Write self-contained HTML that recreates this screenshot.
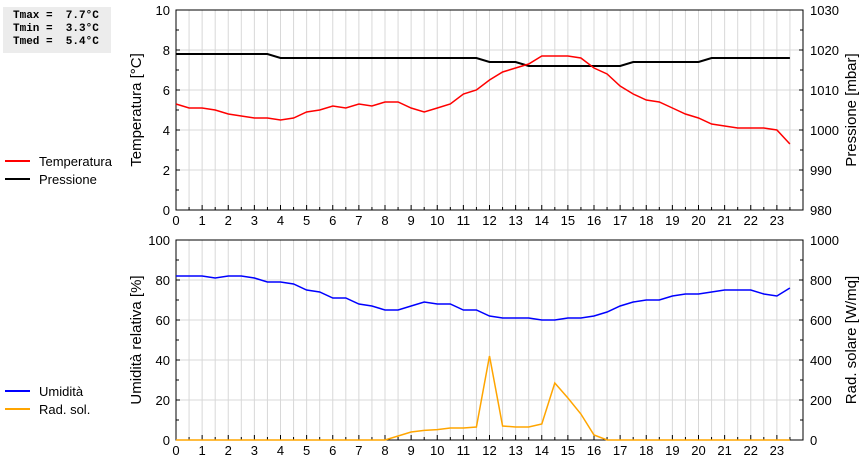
<!DOCTYPE html>
<html><head><meta charset="utf-8">
<style>
body{margin:0;background:#fff;width:860px;height:460px;overflow:hidden;font-family:"Liberation Sans",sans-serif;}
#stats{position:absolute;left:3px;top:7px;width:108px;height:46px;background:#ececec;font-family:"Liberation Mono",monospace;font-weight:bold;font-size:11px;line-height:13px;padding:3px 0 0 10px;box-sizing:border-box;white-space:pre;}
</style></head><body>
<div id="stats">Tmax =  7.7°C
Tmin =  3.3°C
Tmed =  5.4°C</div>
<svg id="c" width="860" height="460" style="position:absolute;left:0;top:0"></svg>
<script>
const hours=[0,0.5,1,1.5,2,2.5,3,3.5,4,4.5,5,5.5,6,6.5,7,7.5,8,8.5,9,9.5,10,10.5,11,11.5,12,12.5,13,13.5,14,14.5,15,15.5,16,16.5,17,17.5,18,18.5,19,19.5,20,20.5,21,21.5,22,22.5,23,23.5];
const temperature=[5.3,5.1,5.1,5.0,4.8,4.7,4.6,4.6,4.5,4.6,4.9,5.0,5.2,5.1,5.3,5.2,5.4,5.4,5.1,4.9,5.1,5.3,5.8,6.0,6.5,6.9,7.1,7.3,7.7,7.7,7.7,7.6,7.1,6.8,6.2,5.8,5.5,5.4,5.1,4.8,4.6,4.3,4.2,4.1,4.1,4.1,4.0,3.3];
const pressure=[1019,1019,1019,1019,1019,1019,1019,1019,1018,1018,1018,1018,1018,1018,1018,1018,1018,1018,1018,1018,1018,1018,1018,1018,1017,1017,1017,1016,1016,1016,1016,1016,1016,1016,1016,1017,1017,1017,1017,1017,1017,1018,1018,1018,1018,1018,1018,1018];
const humidity=[82,82,82,81,82,82,81,79,79,78,75,74,71,71,68,67,65,65,67,69,68,68,65,65,62,61,61,61,60,60,61,61,62,64,67,69,70,70,72,73,73,74,75,75,75,73,72,76];
const radiation=[0,0,0,0,0,0,0,0,0,0,0,0,0,0,0,0,0,20,40,48,52,60,60,65,420,70,65,65,80,285,210,130,25,0,0,0,0,0,0,0,0,0,0,0,0,0,0,0];
const tempTicks=[0,2,4,6,8,10], presTicks=[980,990,1000,1010,1020,1030];
const humTicks=[0,20,40,60,80,100], radTicks=[0,200,400,600,800,1000];
const xTicks=[0,1,2,3,4,5,6,7,8,9,10,11,12,13,14,15,16,17,18,19,20,21,22,23];

const svg=document.getElementById('c');const NS='http://www.w3.org/2000/svg';
const X0=176,X1=803;
const xs=h=>X0+(X1-X0)*h/24;
function el(t,a,p){const e=document.createElementNS(NS,t);for(const k in a)e.setAttribute(k,a[k]);(p||svg).appendChild(e);return e;}
function panel(name,top,bot,lMin,lMax,lTicks,rMin,rMax,rTicks,lTitle,rTitle){
  const g=el('g',{});
  
  
  for(let h=0.5;h<24;h+=0.5){el('line',{x1:xs(h),x2:xs(h),y1:top,y2:bot,stroke:'#d8d8d8','stroke-width':1},g);}
  const yl=v=>bot-(bot-top)*(v-lMin)/(lMax-lMin);
  const yr=v=>bot-(bot-top)*(v-rMin)/(rMax-rMin);
  for(let i=1;i<lTicks.length-1;i++){el('line',{x1:X0,x2:X1,y1:yl(lTicks[i]),y2:yl(lTicks[i]),stroke:'#d8d8d8'},g);}
  el('rect',{x:X0,y:top,width:X1-X0,height:bot-top,fill:'none',stroke:'#000'},g);
  for(let i=0;i<lTicks.length;i++){const y=yl(lTicks[i]);
    const t=el('text',{x:X0-6,y:y+5,'text-anchor':'end','font-size':13},g);t.textContent=lTicks[i];
    el('line',{x1:X0,x2:X0+4,y1:y,y2:y,stroke:'#000'},g);
    if(i<lTicks.length-1){const ym=(y+yl(lTicks[i+1]))/2;el('line',{x1:X0,x2:X0+3,y1:ym,y2:ym,stroke:'#000'},g);}}
  for(let i=0;i<rTicks.length;i++){const y=yr(rTicks[i]);
    const t=el('text',{x:X1+7,y:y+5,'font-size':13},g);t.textContent=rTicks[i];
    el('line',{x1:X1-4,x2:X1,y1:y,y2:y,stroke:'#000'},g);
    if(i<rTicks.length-1){const ym=(y+yr(rTicks[i+1]))/2;el('line',{x1:X1-3,x2:X1,y1:ym,y2:ym,stroke:'#000'},g);}}
  xTicks.forEach(h=>{const t=el('text',{x:xs(h),y:bot+15,'text-anchor':'middle','font-size':13},g);t.textContent=h;
    el('line',{x1:xs(h),x2:xs(h),y1:bot,y2:bot-5,stroke:'#000'},g);
    el('line',{x1:xs(h+0.5),x2:xs(h+0.5),y1:bot,y2:bot-3,stroke:'#000'},g);});
  const mid=(top+bot)/2;
  const lt=el('text',{x:0,y:0,'text-anchor':'middle','font-size':15,transform:`translate(141,${mid}) rotate(-90)`},g);lt.textContent=lTitle;
  
  const rt=el('text',{x:0,y:0,'text-anchor':'middle','font-size':15,transform:`translate(856,${mid}) rotate(-90)`},g);rt.textContent=rTitle;
  
  return {yl,yr,g};
}
function line(g,vals,ys,color,w,name){
  const pts=vals.map((v,i)=>xs(hours[i]).toFixed(1)+','+ys(v).toFixed(1)).join(' ');
  const p=el('polyline',{points:pts,fill:'none',stroke:color,'stroke-width':w},g);
  
  
}
function legend(y,color,label,name){
  const g=el('g',{});
  
  
  el('line',{x1:5,x2:30,y1:y,y2:y,stroke:color,'stroke-width':2},g);
  const t=el('text',{x:39,y:y+5,'font-size':13},g);t.textContent=label;
}
const p1=panel('temperature-pressure',10,210,0,10,tempTicks,980,1030,presTicks,'Temperatura [°C]','Pressione [mbar]');
line(p1.g,pressure,p1.yr,'#000',2,'pressure-line');
line(p1.g,temperature,p1.yl,'#f00',1.5,'temperature-line');
const p2=panel('humidity-radiation',240,440,0,100,humTicks,0,1000,radTicks,'Umidità relativa [%]','Rad. solare [W/mq]');
line(p2.g,radiation,p2.yr,'#ffa500',1.5,'radiation-line');
line(p2.g,humidity,p2.yl,'#00f',1.5,'humidity-line');
legend(161,'#f00','Temperatura','legend-temperatura');
legend(179,'#000','Pressione','legend-pressione');
legend(391,'#00f','Umidità','legend-umidita');
legend(409,'#ffa500','Rad. sol.','legend-radiazione');
</script>
</body></html>
